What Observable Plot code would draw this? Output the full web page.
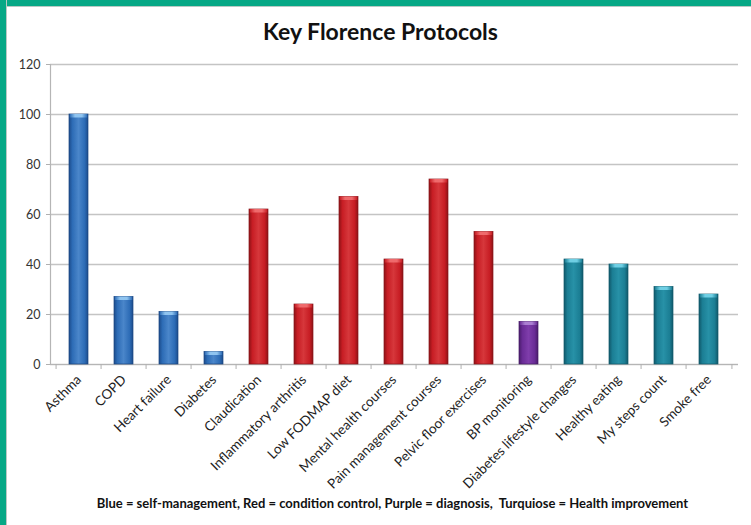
<!DOCTYPE html>
<html>
<head>
<meta charset="utf-8">
<script src="https://cdn.jsdelivr.net/npm/d3@7"></script>
<script src="https://cdn.jsdelivr.net/npm/@observablehq/plot@0.6"></script>
<style>
  html, body { margin: 0; padding: 0; background: #fff; }
  #wrap { position: relative; width: 751px; height: 525px; overflow: hidden; background: #fff; font-family: Lato, "Open Sans", sans-serif; }
  #topbar { position: absolute; left: 0; top: 0; width: 751px; height: 6px; background: #06a886; border-bottom: 1px solid #b9c9c4; }
  #leftbar { position: absolute; left: 0; top: 0; width: 6px; height: 525px; background: #06a886; border-right: 1px solid #b9c9c4; }
  #title { position: absolute; left: 10px; width: 741px; top: 18px; line-height: 1.2; text-align: center; font-weight: 700; font-size: 23px; color: #111; }
  #caption { position: absolute; left: 34px; width: 717px; top: 495px; text-align: center; font-weight: 700; font-size: 13px; color: #111; }
  #chart { position: absolute; left: 0; top: 0; }
</style>
</head>
<body>
<div id="wrap">
  <div id="chart"></div>
  <div id="topbar"></div>
  <div id="leftbar"></div>
  <div id="title">Key Florence Protocols</div>
  <div id="caption">Blue = self-management, Red = condition control, Purple = diagnosis,&nbsp; Turquiose = Health improvement</div>
</div>
<script>
const categories = ["Asthma", "COPD", "Heart failure", "Diabetes", "Claudication", "Inflammatory arthritis", "Low FODMAP diet", "Mental health courses", "Pain management courses", "Pelvic floor exercises", "BP monitoring", "Diabetes lifestyle changes", "Healthy eating", "My steps count", "Smoke free"];
const values = [100, 27, 21, 5, 62, 24, 67, 42, 74, 53, 17, 42, 40, 31, 28];
const groups = ["self", "self", "self", "self", "control", "control", "control", "control", "control", "control", "diagnosis", "health", "health", "health", "health"];
const yTicks = [0, 20, 40, 60, 80, 100, 120];

const data = categories.map((c, i) => ({category: c, value: values[i], group: groups[i]}));

const palette = {
  self:      {edge: "#1c4c8c", mid: "#2d6cb6", light: "#4a86ca", cap: "#8fc4f0", stroke: "#1a457f"},
  control:   {edge: "#8e1216", mid: "#c71d24", light: "#d6373b", cap: "#ef6a6c", stroke: "#86151a"},
  diagnosis: {edge: "#4a1c6c", mid: "#6a2c96", light: "#7f3dab", cap: "#ab7fd2", stroke: "#451a64"},
  health:    {edge: "#10586a", mid: "#1b7e94", light: "#2791a7", cap: "#6fcfe4", stroke: "#125a6a"}
};

const W = 751, H = 525, mL = 50, mR = 13, mT = 64, mB = 161;
const step = (W - mL - mR) / categories.length;

const marks = [
  Plot.gridY(yTicks, {stroke: "#c4c4c4", strokeOpacity: 1, strokeWidth: 1.4}),
  Plot.frame({anchor: "left", stroke: "#b5b5b5", strokeWidth: 1.2}),
  Plot.axisY(yTicks, {tickSize: 4, tickPadding: 6, stroke: "#b0b0b0", fill: "#333", fontSize: 12.5}),
  Plot.ruleY([0], {stroke: "#b5b5b5", strokeWidth: 1.2}),
  Plot.axisX({tickSize: 5, tickFormat: () => "", dx: -step / 2, stroke: "#b0b0b0"}),
  Plot.axisX([categories[categories.length - 1]], {tickSize: 5, tickFormat: () => "", dx: step / 2, stroke: "#b0b0b0"}),
  Plot.axisX({tickSize: 0, tickPadding: 13, tickRotate: -45, fill: "#1e1e1e", fontSize: 13.5})
];
for (const g of Object.keys(palette)) {
  const sub = data.filter(d => d.group === g);
  marks.push(Plot.barY(sub, {x: "category", y: "value", fill: `url(#grad-${g})`, stroke: palette[g].stroke, strokeWidth: 0.7}));
  marks.push(Plot.barY(sub, {x: "category", y1: d => d.value - 1.4, y2: "value", fill: `url(#cap-${g})`, insetLeft: 0.8, insetRight: 0.8}));
}

const plot = Plot.plot({
  width: W, height: H,
  marginLeft: mL, marginRight: mR, marginTop: mT, marginBottom: mB,
  style: {fontFamily: "Lato, 'Open Sans', sans-serif", background: "transparent", overflow: "visible"},
  x: {domain: categories, paddingInner: 0.57, paddingOuter: 0.285, label: null, axis: null},
  y: {domain: [0, 120], label: null, axis: null},
  marks
});

const ns = "http://www.w3.org/2000/svg";
const defs = document.createElementNS(ns, "defs");
for (const [g, p] of Object.entries(palette)) {
  const lg = document.createElementNS(ns, "linearGradient");
  lg.setAttribute("id", `grad-${g}`);
  lg.setAttribute("x1", "0"); lg.setAttribute("x2", "1"); lg.setAttribute("y1", "0"); lg.setAttribute("y2", "0");
  [[0, p.edge], [0.18, p.mid], [0.5, p.light], [0.82, p.mid], [1, p.edge]].forEach(([o, c]) => {
    const s = document.createElementNS(ns, "stop");
    s.setAttribute("offset", o); s.setAttribute("stop-color", c);
    lg.appendChild(s);
  });
  defs.appendChild(lg);
  const cg = document.createElementNS(ns, "linearGradient");
  cg.setAttribute("id", `cap-${g}`);
  cg.setAttribute("x1", "0"); cg.setAttribute("x2", "1"); cg.setAttribute("y1", "0"); cg.setAttribute("y2", "0");
  [[0, p.mid], [0.3, p.cap], [0.7, p.cap], [1, p.mid]].forEach(([o, c]) => {
    const s = document.createElementNS(ns, "stop");
    s.setAttribute("offset", o); s.setAttribute("stop-color", c);
    cg.appendChild(s);
  });
  defs.appendChild(cg);
}
plot.insertBefore(defs, plot.firstChild);
document.getElementById("chart").appendChild(plot);
</script>
</body>
</html>
